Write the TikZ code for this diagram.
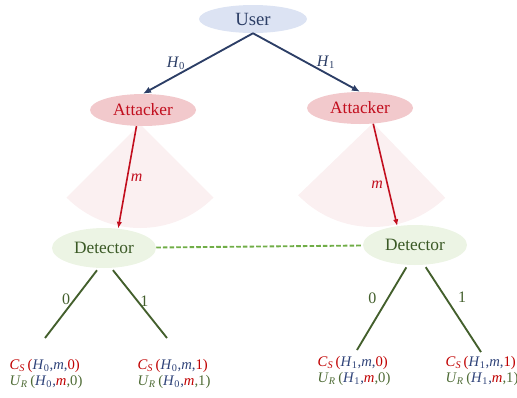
\documentclass[tikz,border=0pt]{standalone}
\usepackage{fontspec}
\setmainfont{Liberation Serif}
\usetikzlibrary{shapes.geometric,arrows.meta}
\definecolor{usrfill}{HTML}{DCE3F3}
\definecolor{navy}{HTML}{2C3E66}
\definecolor{attfill}{HTML}{F2C9CC}
\definecolor{attred}{HTML}{C20E1E}
\definecolor{fanpink}{HTML}{FBF0F1}
\definecolor{detfill}{HTML}{ECF4E4}
\definecolor{detgreen}{HTML}{3B5A26}
\definecolor{dashgreen}{HTML}{70AD47}
\definecolor{brgreen}{HTML}{435F2C}
\definecolor{lfred}{HTML}{C00000}
\definecolor{lfblue}{HTML}{2F4379}
\definecolor{lfgreen}{HTML}{4E6B35}
\tikzstyle{usernode} = [ellipse,fill=usrfill,text=navy,minimum width=81pt,minimum height=21pt,inner sep=0,font=\fontsize{14}{16}\selectfont]
\tikzstyle{attnode} = [ellipse,fill=attfill,text=attred,minimum width=79.5pt,minimum height=24pt,inner sep=0,font=\fontsize{13}{15}\selectfont]
\tikzstyle{detnode} = [ellipse,fill=detfill,text=detgreen,minimum width=78pt,minimum height=30pt,inner sep=0,font=\fontsize{13}{15}\selectfont]
\tikzstyle{hyp} = [-{Latex[length=6pt,width=5pt]},line width=1.4pt,draw=navy]
\tikzstyle{msg} = [-{Latex[length=5pt,width=4pt]},line width=1.2pt,draw=attred]
\tikzstyle{branch} = [-,line width=1.4pt,draw=brgreen]
\tikzstyle{dashlink} = [-,line width=1.4pt,draw=dashgreen,dash pattern=on 3.4pt off 1.6pt]
\tikzstyle{fan} = [fill=fanpink]
\tikzstyle{leaf} = [align=left,inner sep=0,font=\fontsize{11}{12}\selectfont]
\tikzstyle{hlab} = [text=navy,inner sep=1pt,font=\fontsize{12}{14}\selectfont]
\tikzstyle{mlab} = [text=attred,inner sep=1pt,font=\fontsize{12}{14}\selectfont]
\tikzstyle{blab} = [text=brgreen,inner sep=1pt,font=\fontsize{12}{14}\selectfont]
\newcommand{\hsym}[1]{\textit{H}\textsubscript{#1}}
\newcommand{\payoff}[2]{\textcolor{lfred}{\textit{C}\textsubscript{\textit{S}}\,(}\textcolor{lfblue}{\hsym{#1},\textit{m},}\textcolor{lfred}{#2)}\\
  \textcolor{lfgreen}{\textit{U}\textsubscript{\textit{R}}\,(}\textcolor{lfblue}{\hsym{#1},}\textcolor{lfred}{\textit{m}}\textcolor{lfgreen}{,#2)}}
\begin{document}
\begin{tikzpicture}[x=0.75pt,y=-0.75pt]
      \useasboundingbox (0,0) rectangle (517,397);
      % signal fans
      \fill[fan] (140,124) -- ++(45:104) arc[start angle=45,end angle=135,radius=104] -- cycle;
      \fill[fan] (373,123) -- ++(46:104) arc[start angle=46,end angle=136,radius=104] -- cycle;
      % players
      \node[usernode] (user) at (253,19) {User};
      \node[attnode] (att0) at (143,110) {Attacker};
      \node[attnode] (att1) at (360,108) {Attacker};
      \node[detnode] (det0) at (104,248) {Detector};
      \node[detnode] (det1) at (415,245) {Detector};
      % outcomes
      \node[leaf] (l00) at (46,374) {\payoff{0}{0}};
      \node[leaf] (l01) at (174,374) {\payoff{0}{1}};
      \node[leaf] (l10) at (354,371) {\payoff{1}{0}};
      \node[leaf] (l11) at (482,371) {\payoff{1}{1}};
      \coordinate (e00) at (45,338);
      \coordinate (e01) at (167,338);
      \coordinate (e10) at (357,350);
      \coordinate (e11) at (481,352);
      % moves
      \draw[hyp] (user.south) -- (att0.north) node[midway,left=8pt,hlab]{\hsym{0}};
      \draw[hyp] (user.south) -- (att1.north) node[midway,right=6pt,hlab]{\hsym{1}};
      \draw[msg] (att0.-112) -- (det0.54) node[pos=0.5,right=1pt,mlab]{\textit{m}};
      \draw[msg] (att1.-50) -- (det1.133) node[pos=0.6,left=2pt,mlab]{\textit{m}};
      \draw[dashlink] (det0) -- (det1);
      \draw[branch,shorten <=2pt] (det0.-105) -- (e00) node[pos=0.45,left=1.5pt,blab]{0};
      \draw[branch,shorten <=2pt] (det0.-70) -- (e01) node[pos=0.48,right=0pt,blab]{1};
      \draw[branch,shorten <=2pt] (det1.-110) -- (e10) node[pos=0.39,left=7pt,blab]{0};
      \draw[branch,shorten <=2pt] (det1.-65) -- (e11) node[pos=0.37,right=8pt,blab]{1};
\end{tikzpicture}
\end{document}
